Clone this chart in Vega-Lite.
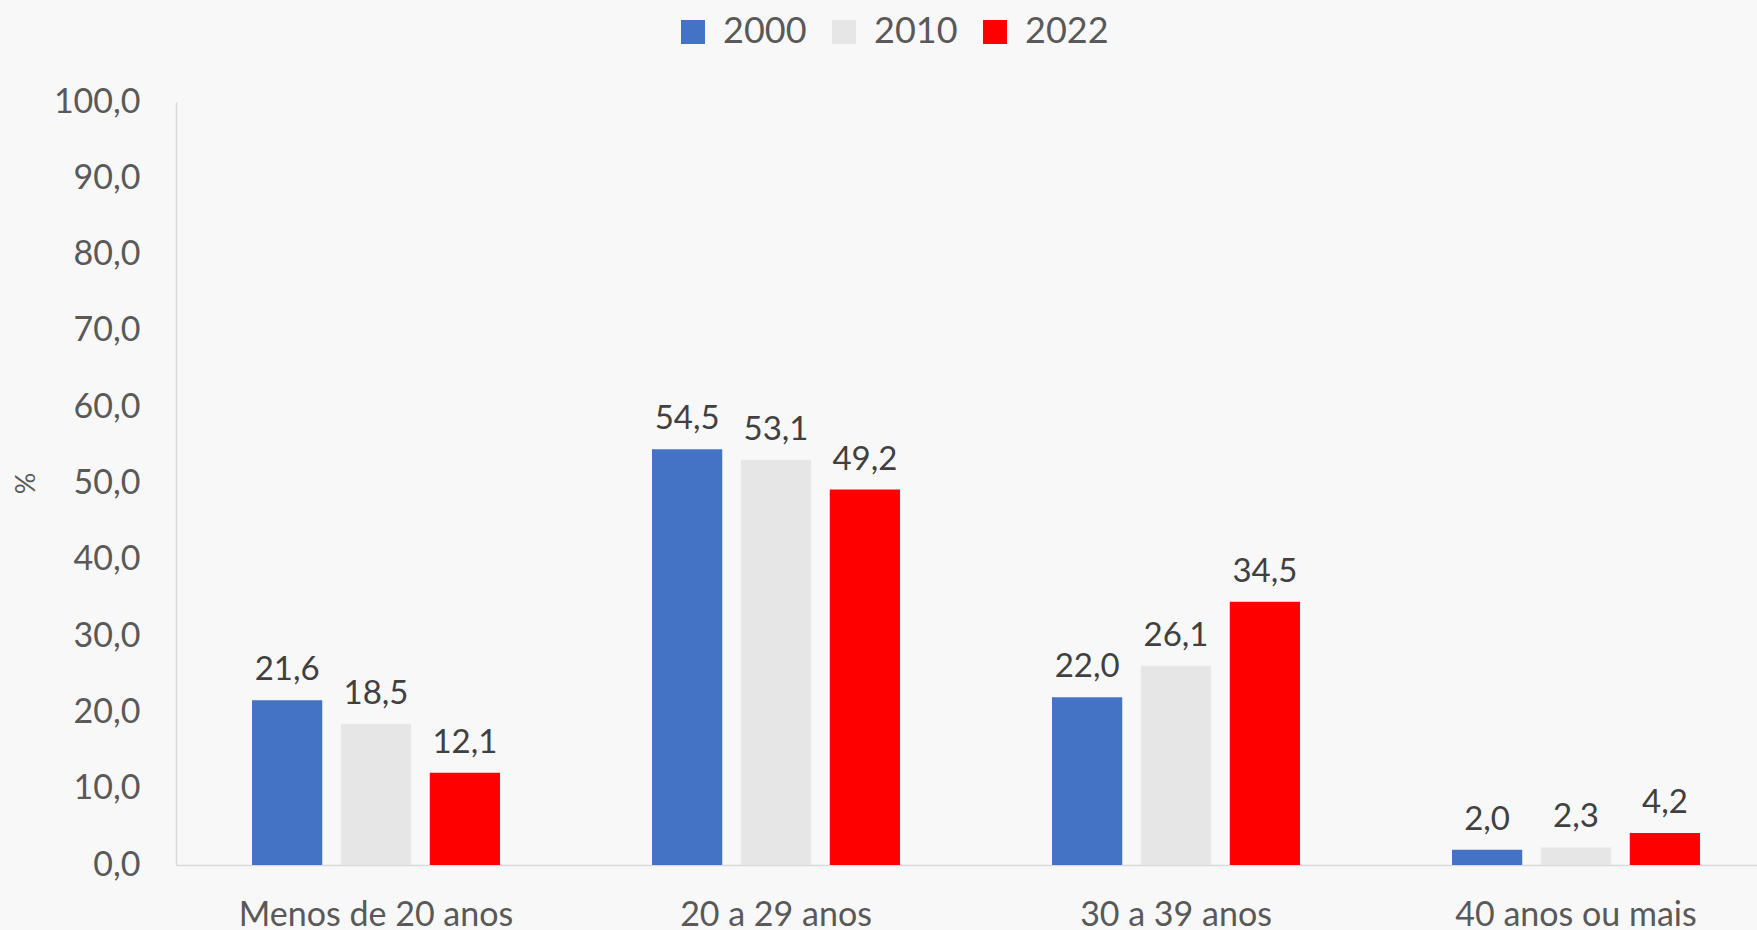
{
  "$schema": "https://vega.github.io/schema/vega-lite/v6.json",
  "autosize": {"type": "none"},
  "width": 1581,
  "height": 763,
  "padding": {"left": 176, "top": 102, "right": 0, "bottom": 65},
  "background": "#F8F8F8",
  "data": {
    "values": [
      {"faixa": "Menos de 20 anos", "ano": "2000", "valor": 21.6},
      {"faixa": "Menos de 20 anos", "ano": "2010", "valor": 18.5},
      {"faixa": "Menos de 20 anos", "ano": "2022", "valor": 12.1},
      {"faixa": "20 a 29 anos", "ano": "2000", "valor": 54.5},
      {"faixa": "20 a 29 anos", "ano": "2010", "valor": 53.1},
      {"faixa": "20 a 29 anos", "ano": "2022", "valor": 49.2},
      {"faixa": "30 a 39 anos", "ano": "2000", "valor": 22.0},
      {"faixa": "30 a 39 anos", "ano": "2010", "valor": 26.1},
      {"faixa": "30 a 39 anos", "ano": "2022", "valor": 34.5},
      {"faixa": "40 anos ou mais", "ano": "2000", "valor": 2.0},
      {"faixa": "40 anos ou mais", "ano": "2010", "valor": 2.3},
      {"faixa": "40 anos ou mais", "ano": "2022", "valor": 4.2}
    ]
  },
  "encoding": {
    "x": {
      "field": "faixa", "type": "nominal",
      "sort": ["Menos de 20 anos", "20 a 29 anos", "30 a 39 anos", "40 anos ou mais"],
      "scale": {"range": [0, 1600], "paddingInner": 0.38, "paddingOuter": 0.19},
      "axis": {
        "title": null, "labelAngle": 0, "ticks": false, "domainColor": "#D9D9D9", "domainWidth": 1.5,
        "labelPadding": 33, "labelLimit": 0, "labelFont": "Lato", "labelFontSize": 34, "labelColor": "#595959"
      }
    },
    "xOffset": {
      "field": "ano", "type": "nominal",
      "scale": {"paddingInner": 0.21, "paddingOuter": 0}
    },
    "y": {
      "field": "valor", "type": "quantitative",
      "scale": {"domain": [0, 100], "nice": false},
      "axis": {
        "values": [0, 10, 20, 30, 40, 50, 60, 70, 80, 90, 100],
        "format": ".1f", "grid": false, "ticks": false,
        "domainColor": "#D9D9D9", "domainWidth": 1.5,
        "labelPadding": 36, "labelFont": "Lato", "labelFontSize": 34, "labelColor": "#595959",
        "title": "%", "titleAngle": -90, "titleX": -136, "titleY": 381,
        "titleFont": "Lato", "titleFontSize": 27, "titleFontWeight": "normal", "titleColor": "#595959"
      }
    }
  },
  "layer": [
    {
      "mark": {"type": "bar"},
      "encoding": {
        "color": {
          "field": "ano", "type": "nominal",
          "scale": {"domain": ["2000", "2010", "2022"], "range": ["#4472C4", "#E7E6E6", "#FF0000"]},
          "legend": {
            "title": null, "orient": "none", "direction": "horizontal",
            "legendX": 499, "legendY": -88,
            "symbolType": "square", "symbolSize": 576, "symbolStrokeWidth": 0,
            "labelFont": "Lato", "labelFontSize": 36, "labelColor": "#595959",
            "labelOffset": 12, "columnPadding": 19
          }
        }
      }
    },
    {
      "mark": {"type": "text", "baseline": "alphabetic", "dy": -20, "font": "Lato", "fontSize": 33, "color": "#404040"},
      "encoding": {
        "text": {"field": "valor", "type": "quantitative", "format": ".1f"}
      }
    }
  ],
  "config": {
    "view": {"stroke": null},
    "locale": {"number": {"decimal": ",", "thousands": ".", "grouping": [3], "currency": ["R$", ""]}}
  }
}
